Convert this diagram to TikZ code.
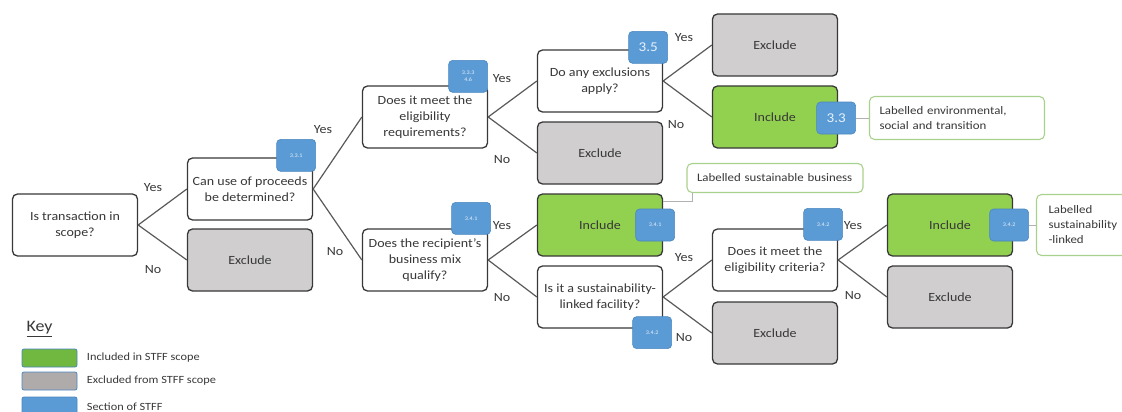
\documentclass[tikz,border=0pt]{standalone}
\usepackage{fontspec}
\setmainfont[FakeStretch=1.12]{Carlito}
\usepackage{tikz}
\usetikzlibrary{positioning}
\definecolor{inkgrey}{HTML}{383838}
\definecolor{linegrey}{HTML}{595959}
\definecolor{exgrey}{HTML}{D0CECE}
\definecolor{incgreen}{HTML}{92D050}
\definecolor{secblue}{HTML}{5B9BD5}
\definecolor{secedge}{HTML}{4A86C0}
\definecolor{notegreen}{HTML}{A9D18E}
\definecolor{keygreen}{HTML}{70B83F}
\definecolor{keygrey}{HTML}{AFABAB}
\tikzset{
  every node/.style={
    text=inkgrey,
    font=\fontsize{12.5}{16}\selectfont
  },
  qbox/.style={
    draw=inkgrey, line width=1.3pt, rounded corners=5pt, fill=white,
    minimum width=125pt, minimum height=62pt, align=center, inner sep=2pt
  },
  exbox/.style={qbox, fill=exgrey},
  incbox/.style={qbox, fill=incgreen},
  badge/.style={
    draw=secedge, line width=0.6pt, rounded corners=4pt, fill=secblue,
    minimum width=39pt, minimum height=32pt, align=center, inner sep=1pt,
    text=white!85!secblue, font=\fontsize{5.5}{6.5}\selectfont
  },
  bigbadge/.style={badge, font=\fontsize{13.5}{15}\selectfont},
  note/.style={
    draw=notegreen, line width=1.1pt, rounded corners=5pt, fill=white,
    align=left, font=\fontsize{11.5}{15}\selectfont, inner xsep=9pt, inner ysep=2pt
  },
  link/.style={draw=linegrey, line width=1.2pt},
  noteline/.style={draw=black!30, line width=1pt},
  answer/.style={font=\fontsize{12.5}{14}\selectfont},
  swatch/.style={
    draw=secedge, line width=0.8pt, rounded corners=2pt,
    minimum width=55pt, minimum height=18pt, inner sep=0pt
  },
  keytext/.style={anchor=west, font=\fontsize{11}{12}\selectfont}
}
\begin{document}
\begin{tikzpicture}[x=1pt, y=1pt]
  \useasboundingbox (0,0) rectangle (1122,-412);
  % decision tree
  \node[qbox] (Q1) at (75,-225) {Is transaction in\\scope?};
  \node[qbox, on grid, above right=36pt and 175pt of Q1] (Q2) {Can use of proceeds\\be determined?};
  \node[exbox, on grid, below right=35pt and 175pt of Q1] (Ex1) {Exclude};
  \node[qbox, on grid, above right=72pt and 175pt of Q2] (Q3) {Does it meet the\\eligibility\\requirements?};
  \node[qbox, on grid, below right=71pt and 175pt of Q2] (Q4) {Does the recipient's\\business mix\\qualify?};
  \node[qbox, on grid, above right=36pt and 175pt of Q3] (Q5) {Do any exclusions\\apply?};
  \node[exbox, on grid, below right=36pt and 175pt of Q3] (Ex2) {Exclude};
  \node[incbox, on grid, above right=35pt and 175pt of Q4] (Inc2) {Include};
  \node[qbox, on grid, below right=37pt and 175pt of Q4] (Q6) {Is it a sustainability-\\linked facility?};
  \node[exbox, on grid, above right=36pt and 175pt of Q5] (Ex3) {Exclude};
  \node[incbox, on grid, below right=36pt and 175pt of Q5] (Inc1) {Include};
  \node[qbox, on grid, above right=37pt and 175pt of Q6] (Q7) {Does it meet the\\eligibility criteria?};
  \node[exbox, on grid, below right=36pt and 175pt of Q6] (Ex4) {Exclude};
  \node[incbox, on grid, above right=35pt and 175pt of Q7] (Inc3) {Include};
  \node[exbox, on grid, below right=37pt and 175pt of Q7] (Ex5) {Exclude};

  \foreach \from/\to in {Q1/Q2, Q1/Ex1, Q2/Q3, Q2/Q4, Q3/Q5, Q3/Ex2, Q4/Inc2, Q4/Q6,
                         Q5/Ex3, Q5/Inc1, Q6/Q7, Q6/Ex4, Q7/Inc3, Q7/Ex5}
    \draw[link] (\from.east) -- (\to.west);

  % yes / no
  \node[answer] (Y1) at (153,-188) {Yes};
  \node[answer] (N1) at (153,-270) {No};
  \node[answer] (Y2) at (323,-130) {Yes};
  \node[answer] (N2) at (335,-252) {No};
  \node[answer] (Y3) at (502,-79) {Yes};
  \node[answer] (N3) at (502,-160) {No};
  \node[answer] (Y4) at (502,-226) {Yes};
  \node[answer] (N4) at (502,-298) {No};
  \node[answer] (Y5) at (684,-38) {Yes};
  \node[answer] (N5) at (676,-125) {No};
  \node[answer] (Y6) at (684,-258) {Yes};
  \node[answer] (N6) at (684,-338) {No};
  \node[answer] (Y7) at (853,-226) {Yes};
  \node[answer] (N7) at (853,-296) {No};

  % section badges
  \node[badge] (B331) at ([shift={(-17,2)}]Q2.north east) {3.3.1};
  \node[badge] (B333) at ([shift={(-20,9)}]Q3.north east) {3.3.3\\4.6};
  \node[bigbadge] (B35) at ([shift={(-15,2)}]Q5.north east) {3.5};
  \node[bigbadge] (B33) at ([shift={(-2,-1)}]Inc1.east) {3.3};
  \node[badge] (B341a) at ([shift={(-17,10)}]Q4.north east) {3.4.1};
  \node[badge] (B341b) at ([shift={(-8,0)}]Inc2.east) {3.4.1};
  \node[badge] (B342a) at ([shift={(-11,-4)}]Q6.south east) {3.4.2};
  \node[badge] (B342b) at ([shift={(-15,4)}]Q7.north east) {3.4.2};
  \node[badge] (B342c) at ([shift={(-4,0)}]Inc3.east) {3.4.2};

  % labels
  \node[note, anchor=west, minimum width=175pt, minimum height=43pt, text width=155pt] (Ann1)
    at ([xshift=13pt]B33.east) {Labelled environmental,\\social and transition};
  \draw[noteline] (B33.east) -- (Ann1.west);
  \node[note, on grid, above right=47pt and 175pt of Inc2, minimum width=176pt, minimum height=29pt,
    text width=156pt] (Ann2) {Labelled sustainable business};
  \draw[noteline] ([yshift=-8pt]Inc2.north east) -| ([xshift=-83pt]Ann2.south);
  \node[note, anchor=west, minimum width=110pt, minimum height=61pt, text width=90pt,
    inner xsep=12pt] (Ann3) at ([xshift=7pt]B342c.east) {Labelled\\sustainability\\-linked};
  \draw[noteline] (B342c.east) -- (Ann3.west);

  % key
  \node[anchor=west, font=\fontsize{16}{18}\selectfont] (KeyTitle) at (23,-329) {\underline{Key}};
  \node[swatch, fill=keygreen] (KeyInc) at (49.5,-358) {};
  \node[swatch, fill=keygrey] (KeyEx) at (49.5,-381) {};
  \node[swatch, fill=secblue] (KeySec) at (49.5,-406) {};
  \node[keytext] (KeyIncT) at ([xshift=6pt]KeyInc.east) {Included in STFF scope};
  \node[keytext] (KeyExT) at ([xshift=6pt]KeyEx.east) {Excluded from STFF scope};
  \node[keytext] (KeySecT) at ([xshift=6pt,yshift=-1pt]KeySec.east) {Section of STFF};
\end{tikzpicture}
\end{document}
